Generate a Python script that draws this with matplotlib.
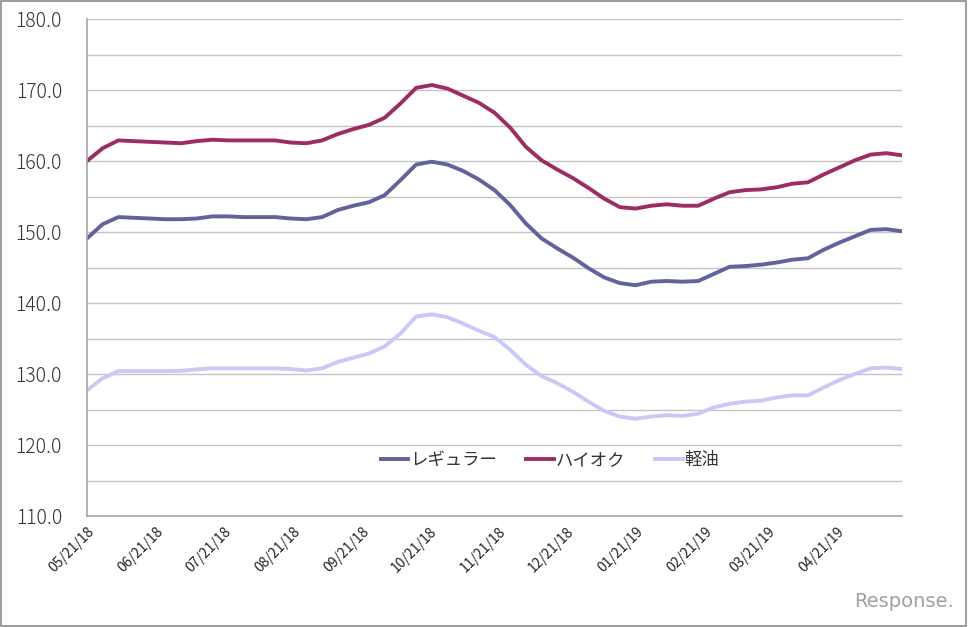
import numpy as np
import pandas as pd
import matplotlib
matplotlib.use("Agg")
import matplotlib.pyplot as plt
import matplotlib.dates as mdates
from matplotlib.patches import Rectangle

plt.rcParams['font.family'] = ['Noto Sans CJK JP', 'DejaVu Sans']

# weekly survey dates
dates = pd.date_range('2018-05-21', periods=53, freq='7D')

regular = [149.1, 151.1, 152.1, 152.0, 151.9, 151.8, 151.8, 151.9, 152.2, 152.2,
           152.1, 152.1, 152.1, 151.9, 151.8, 152.1, 153.1, 153.7, 154.2, 155.2,
           157.3, 159.5, 159.9, 159.5, 158.6, 157.4, 155.9, 153.8, 151.2, 149.1,
           147.7, 146.4, 144.9, 143.6, 142.8, 142.5, 143.0, 143.1, 143.0, 143.1,
           144.1, 145.1, 145.2, 145.4, 145.7, 146.1, 146.3, 147.5, 148.5, 149.4,
           150.3, 150.4, 150.1]
highoc = [160.0, 161.8, 162.9, 162.8, 162.7, 162.6, 162.5, 162.8, 163.0, 162.9,
          162.9, 162.9, 162.9, 162.6, 162.5, 162.9, 163.8, 164.5, 165.1, 166.1,
          168.1, 170.3, 170.7, 170.2, 169.2, 168.2, 166.8, 164.7, 162.0, 160.1,
          158.8, 157.6, 156.2, 154.7, 153.5, 153.3, 153.7, 153.9, 153.7, 153.7,
          154.7, 155.6, 155.9, 156.0, 156.3, 156.8, 157.0, 158.1, 159.1, 160.1,
          160.9, 161.1, 160.8]
diesel = [127.7, 129.4, 130.4, 130.4, 130.4, 130.4, 130.45, 130.65, 130.8, 130.8,
          130.8, 130.8, 130.8, 130.7, 130.5, 130.8, 131.7, 132.3, 132.9, 133.9,
          135.7, 138.1, 138.4, 138.0, 137.1, 136.1, 135.2, 133.4, 131.3, 129.7,
          128.7, 127.5, 126.1, 124.8, 124.0, 123.7, 124.0, 124.2, 124.1, 124.4,
          125.3, 125.8, 126.1, 126.25, 126.7, 127.0, 127.0, 128.1, 129.15, 130.0,
          130.8, 130.9, 130.7]

labels = ['レギュラー', 'ハイオク', '軽油']
colors = ['#62629e', '#9c2d62', '#c9c9f7']

fig = plt.figure(figsize=(9.68, 6.27), dpi=100)
ax = fig.add_axes([87/968, 1-516/627, (902-87)/968, (516-19)/627])

for ys, lab, c in zip([regular, highoc, diesel], labels, colors):
    ax.plot(dates, ys, color=c, lw=2.8, label=lab, solid_joinstyle='round')

ax.set_xlim(dates[0], dates[-1])
ax.set_ylim(110, 180)
ax.set_yticks(np.arange(110, 181, 10))
ax.set_yticks(np.arange(110, 181, 5), minor=True)
ax.yaxis.set_major_formatter(matplotlib.ticker.FormatStrFormatter('%.1f'))
ax.grid(True, axis='y', which='both', color='#c4c4c4', lw=1)
ax.set_axisbelow(True)

xt = [dates[0] + pd.DateOffset(months=k) for k in range(12)]
ax.set_xticks(xt)
ax.xaxis.set_major_formatter(mdates.DateFormatter('%m/%d/%y'))
ax.tick_params(axis='x', length=0, pad=6, labelsize=10, labelcolor='#222222')
ax.tick_params(axis='y', which='both', length=0, pad=18, labelsize=14,
               labelcolor='#333333')
for t in ax.get_xticklabels():
    t.set_rotation(45)
    t.set_ha('right')
    t.set_rotation_mode('anchor')
for t in ax.get_yticklabels():
    t.set_fontweight('light')

for s in ['top', 'right']:
    ax.spines[s].set_visible(False)
for s in ['left', 'bottom']:
    ax.spines[s].set_color('#a6a6a6')
    ax.spines[s].set_linewidth(1.2)

leg = ax.legend(loc='center', bbox_to_anchor=(0.568, 0.113), ncol=3, frameon=False,
                fontsize=12.5, handlelength=1.6, handletextpad=0.1, columnspacing=1.7)
for t in leg.get_texts():
    t.set_color('#333333')

fig.add_artist(Rectangle((0.001, 0.001), 0.997, 0.997, transform=fig.transFigure,
                         fill=False, edgecolor='#8c8c8c', lw=1.2))
fig.text(0.985, 0.025, 'Response.', ha='right', va='bottom', color='#a0a0a0',
         fontsize=14, family='DejaVu Sans')

fig.savefig('out.png', dpi=100)
